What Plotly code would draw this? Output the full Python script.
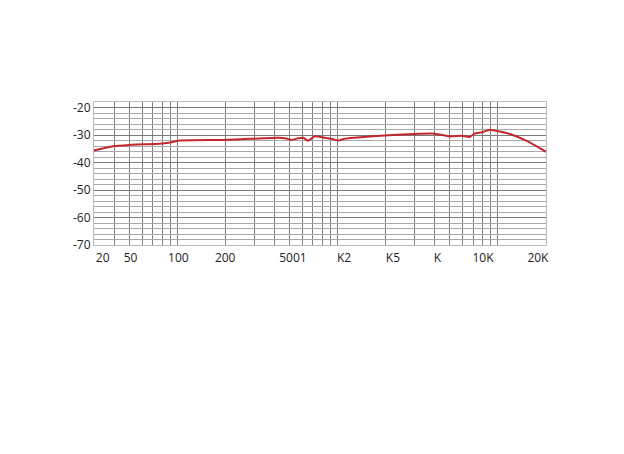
import numpy as np
import plotly.graph_objects as go

# Frequency response data (Hz, dB)
freq = [30, 39.4, 50, 60.5, 77, 90, 103, 190, 280, 423, 478, 514, 565, 609, 652,
        718, 830, 915, 1005, 1102, 1269, 1960, 2500, 3030, 4030, 5000, 5930, 6680,
        7170, 7960, 8900, 9570, 12150, 15400, 20000]
level = [-35.6, -34.1, -33.6, -33.4, -33.2, -32.7, -32.0, -31.8, -31.4, -31.0, -31.3,
         -31.8, -31.2, -31.0, -32.1, -30.5, -31.0, -31.4, -32.0, -31.4, -31.0, -30.2,
         -29.8, -29.6, -29.5, -30.5, -30.3, -30.7, -29.5, -29.0, -28.1, -28.4, -29.8,
         -32.3, -36.1]

# Tick labels (as printed on the reference) and their positions
xtick_pos = [34, 50.8, 101, 198, 525, 1094, 2213, 4189, 8074, 17807]
xtick_text = ["20", "50", "100", "200", "5001", "K2", "K5", "K", "10K", "20K"]
xgrid = [40, 50, 60, 70, 80, 90, 100, 200, 300, 400, 500, 600, 700, 800, 900,
         1000, 2000, 3000, 4000, 5000, 6000, 7000, 8000, 9000, 10000]
ytick_vals = [-20, -30, -40, -50, -60, -70]
ytick_text = ["-20", "-30", "-40", "-50", "-60", "-70"]

fig = go.Figure()
fig.add_trace(go.Scatter(x=freq, y=level, mode="lines",
                         line=dict(color="#c1272d", width=2, shape="spline", smoothing=0.4),
                         hoverinfo="skip", showlegend=False))

fig.update_layout(
    width=624, height=454,
    margin=dict(l=86, r=86, t=94, b=217),
    paper_bgcolor="white", plot_bgcolor="white",
    font=dict(family="Open Sans, sans-serif", size=12, color="#222"),
    xaxis=dict(type="log", range=[np.log10(30), np.log10(20000)],
               tickvals=xtick_pos, ticktext=xtick_text, showgrid=False,
               ticks="", ticklen=0, showline=True, linecolor="#bbb", mirror=True,
               zeroline=False, tickfont=dict(size=12, color="#222"),
               ticklabelstandoff=2,
               minor=dict(tickvals=xgrid, showgrid=True, gridcolor="#808080",
                          gridwidth=1, ticks="")),
    yaxis=dict(range=[-70, -18], tickvals=ytick_vals, ticktext=ytick_text,
               showgrid=True, gridcolor="#7a7a7a", gridwidth=1, ticks="",
               showline=True, linecolor="#bbb", mirror=True, zeroline=False,
               tickfont=dict(size=12, color="#222"),
               minor=dict(dtick=2, tick0=-70, showgrid=True, gridcolor="#a8a8a8",
                          gridwidth=1, ticks="")),
)

fig.write_html("out.html")
